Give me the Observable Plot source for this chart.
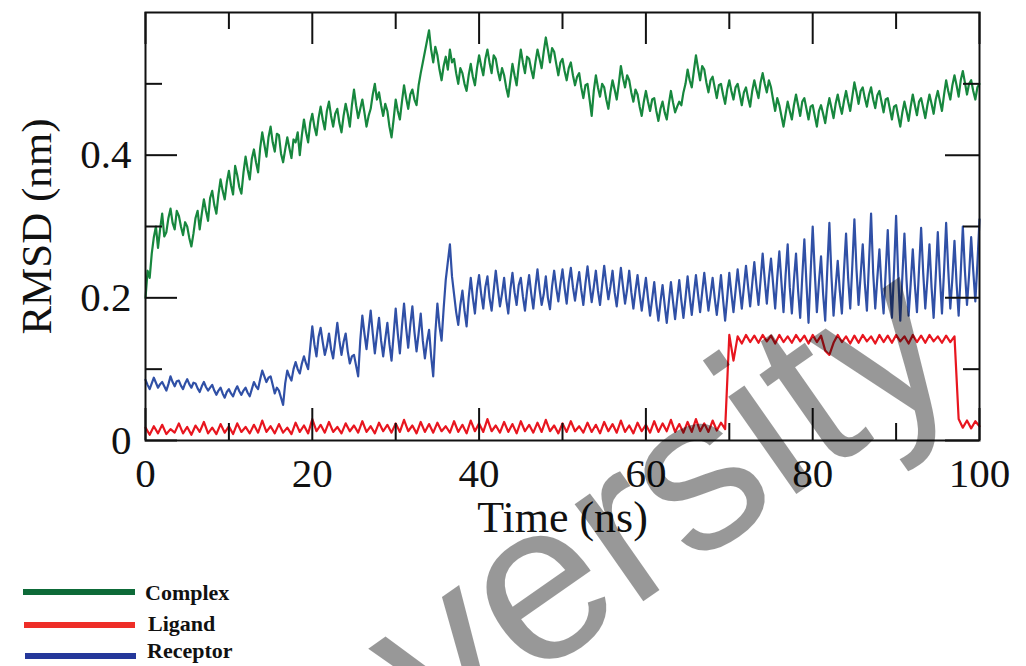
<!DOCTYPE html>
<html>
<head>
<meta charset="utf-8">
<script src="https://cdn.jsdelivr.net/npm/d3@7"></script>
<script src="https://cdn.jsdelivr.net/npm/@observablehq/plot@0.6"></script>
<style>
  html, body { margin: 0; padding: 0; background: #fff; }
  #wrap { position: relative; width: 1026px; height: 666px; overflow: hidden; }
  #legend { position: relative; width: 1026px; height: 96px; font-family: "Liberation Serif", "Times New Roman", serif; }
  .sw { position: absolute; height: 6px; }
  .lab { position: absolute; font-size: 22px; line-height: 22px; font-weight: bold; color: #111; white-space: nowrap; }
  #wm { position: absolute; font-family: "Liberation Sans", Arial, sans-serif; font-size: 225px; line-height: normal; color: #000; opacity: 0.4; white-space: nowrap; pointer-events: none; transform-origin: 0 0; }
</style>
</head>
<body>
<div id="wrap">
  <div id="chart"></div>
  <div id="legend"></div>
  <div id="wm">versity</div>
</div>
<script>
// ---- data (time in ns, RMSD in nm) ----
// fine time grid used by Complex and Receptor
const timeFineNs = [
  0,0.25,0.5,0.75,1,1.25,1.5,1.75,2,2.25,2.5,2.75,3,3.25,3.5,3.75,4,4.25,4.5,4.75,
  5,5.25,5.5,5.75,6,6.25,6.5,6.75,7,7.25,7.5,7.75,8,8.25,8.5,8.75,9,9.25,9.5,9.75,
  10,10.25,10.5,10.75,11,11.25,11.5,11.75,12,12.25,12.5,12.75,13,13.25,13.5,13.75,14,14.25,14.5,14.75,
  15,15.25,15.5,15.75,16,16.25,16.5,16.75,17,17.25,17.5,17.75,18,18.25,18.5,18.75,19,19.25,19.5,19.75,
  20,20.25,20.5,20.75,21,21.25,21.5,21.75,22,22.25,22.5,22.75,23,23.25,23.5,23.75,24,24.25,24.5,24.75,
  25,25.25,25.5,25.75,26,26.25,26.5,26.75,27,27.25,27.5,27.75,28,28.25,28.5,28.75,29,29.25,29.5,29.75,
  30,30.25,30.5,30.75,31,31.25,31.5,31.75,32,32.25,32.5,32.75,33,33.25,33.5,33.75,34,34.25,34.5,34.75,
  35,35.25,35.5,35.75,36,36.25,36.5,36.75,37,37.25,37.5,37.75,38,38.25,38.5,38.75,39,39.25,39.5,39.75,
  40,40.25,40.5,40.75,41,41.25,41.5,41.75,42,42.25,42.5,42.75,43,43.25,43.5,43.75,44,44.25,44.5,44.75,
  45,45.25,45.5,45.75,46,46.25,46.5,46.75,47,47.25,47.5,47.75,48,48.25,48.5,48.75,49,49.25,49.5,49.75,
  50,50.25,50.5,50.75,51,51.25,51.5,51.75,52,52.25,52.5,52.75,53,53.25,53.5,53.75,54,54.25,54.5,54.75,
  55,55.25,55.5,55.75,56,56.25,56.5,56.75,57,57.25,57.5,57.75,58,58.25,58.5,58.75,59,59.25,59.5,59.75,
  60,60.25,60.5,60.75,61,61.25,61.5,61.75,62,62.25,62.5,62.75,63,63.25,63.5,63.75,64,64.25,64.5,64.75,
  65,65.25,65.5,65.75,66,66.25,66.5,66.75,67,67.25,67.5,67.75,68,68.25,68.5,68.75,69,69.25,69.5,69.75,
  70,70.25,70.5,70.75,71,71.25,71.5,71.75,72,72.25,72.5,72.75,73,73.25,73.5,73.75,74,74.25,74.5,74.75,
  75,75.25,75.5,75.75,76,76.25,76.5,76.75,77,77.25,77.5,77.75,78,78.25,78.5,78.75,79,79.25,79.5,79.75,
  80,80.25,80.5,80.75,81,81.25,81.5,81.75,82,82.25,82.5,82.75,83,83.25,83.5,83.75,84,84.25,84.5,84.75,
  85,85.25,85.5,85.75,86,86.25,86.5,86.75,87,87.25,87.5,87.75,88,88.25,88.5,88.75,89,89.25,89.5,89.75,
  90,90.25,90.5,90.75,91,91.25,91.5,91.75,92,92.25,92.5,92.75,93,93.25,93.5,93.75,94,94.25,94.5,94.75,
  95,95.25,95.5,95.75,96,96.25,96.5,96.75,97,97.25,97.5,97.75,98,98.25,98.5,98.75,99,99.25,99.5,99.75,
  100
];

// coarse time grid used by Ligand
const timeCoarseNs = [
  0,0.5,1,1.5,2,2.5,3,3.5,4,4.5,5,5.5,6,6.5,7,7.5,8,8.5,9,9.5,
  10,10.5,11,11.5,12,12.5,13,13.5,14,14.5,15,15.5,16,16.5,17,17.5,18,18.5,19,19.5,
  20,20.5,21,21.5,22,22.5,23,23.5,24,24.5,25,25.5,26,26.5,27,27.5,28,28.5,29,29.5,
  30,30.5,31,31.5,32,32.5,33,33.5,34,34.5,35,35.5,36,36.5,37,37.5,38,38.5,39,39.5,
  40,40.5,41,41.5,42,42.5,43,43.5,44,44.5,45,45.5,46,46.5,47,47.5,48,48.5,49,49.5,
  50,50.5,51,51.5,52,52.5,53,53.5,54,54.5,55,55.5,56,56.5,57,57.5,58,58.5,59,59.5,
  60,60.5,61,61.5,62,62.5,63,63.5,64,64.5,65,65.5,66,66.5,67,67.5,68,68.5,69,69.5,
  70,70.5,71,71.5,72,72.5,73,73.5,74,74.5,75,75.5,76,76.5,77,77.5,78,78.5,79,79.5,
  80,80.5,81,81.5,82,82.5,83,83.5,84,84.5,85,85.5,86,86.5,87,87.5,88,88.5,89,89.5,
  90,90.5,91,91.5,92,92.5,93,93.5,94,94.5,95,95.5,96,96.5,97,97.5,98,98.5,99,99.5,
  100
];

const complexRmsd = [
  0.200,0.238,0.228,0.262,0.285,0.300,0.270,0.296,0.318,0.286,0.292,0.312,0.325,0.305,0.296,0.322,0.315,0.300,0.288,0.306,
  0.300,0.284,0.272,0.290,0.312,0.322,0.296,0.318,0.338,0.322,0.308,0.340,0.350,0.330,0.318,0.345,0.366,0.350,0.338,0.362,
  0.378,0.358,0.345,0.385,0.372,0.355,0.346,0.376,0.398,0.380,0.366,0.395,0.408,0.390,0.376,0.410,0.432,0.415,0.398,0.425,
  0.440,0.418,0.405,0.430,0.428,0.402,0.390,0.408,0.425,0.410,0.396,0.422,0.418,0.432,0.400,0.428,0.450,0.432,0.418,0.445,
  0.458,0.440,0.428,0.452,0.468,0.450,0.436,0.462,0.475,0.455,0.440,0.458,0.465,0.445,0.432,0.455,0.472,0.458,0.440,0.470,
  0.492,0.470,0.452,0.465,0.478,0.460,0.440,0.455,0.465,0.485,0.500,0.478,0.488,0.470,0.455,0.472,0.462,0.440,0.425,0.450,
  0.478,0.462,0.450,0.475,0.498,0.480,0.465,0.485,0.492,0.478,0.470,0.498,0.515,0.530,0.545,0.560,0.575,0.548,0.530,0.552,
  0.540,0.520,0.505,0.525,0.538,0.520,0.548,0.530,0.535,0.515,0.500,0.522,0.515,0.500,0.490,0.512,0.528,0.510,0.498,0.522,
  0.540,0.525,0.512,0.535,0.548,0.530,0.515,0.540,0.535,0.518,0.505,0.522,0.512,0.495,0.482,0.505,0.528,0.512,0.498,0.525,
  0.548,0.530,0.515,0.538,0.535,0.520,0.508,0.530,0.548,0.535,0.522,0.545,0.565,0.548,0.530,0.550,0.545,0.528,0.512,0.530,
  0.535,0.518,0.505,0.522,0.530,0.512,0.498,0.510,0.515,0.495,0.480,0.498,0.500,0.478,0.455,0.490,0.512,0.495,0.482,0.500,
  0.495,0.478,0.465,0.488,0.505,0.492,0.478,0.500,0.525,0.508,0.495,0.512,0.505,0.488,0.475,0.492,0.485,0.468,0.455,0.475,
  0.490,0.475,0.462,0.478,0.480,0.462,0.448,0.465,0.475,0.460,0.450,0.472,0.490,0.474,0.460,0.468,0.475,0.470,0.488,0.500,
  0.520,0.505,0.495,0.518,0.540,0.522,0.505,0.525,0.520,0.502,0.488,0.505,0.510,0.495,0.480,0.498,0.500,0.485,0.472,0.492,
  0.505,0.490,0.478,0.495,0.500,0.485,0.470,0.488,0.495,0.480,0.468,0.490,0.505,0.492,0.480,0.502,0.515,0.500,0.488,0.505,
  0.495,0.478,0.462,0.480,0.470,0.455,0.440,0.458,0.475,0.462,0.450,0.470,0.485,0.470,0.455,0.475,0.480,0.465,0.450,0.468,
  0.470,0.455,0.440,0.462,0.470,0.458,0.445,0.465,0.480,0.466,0.452,0.472,0.485,0.470,0.458,0.476,0.490,0.475,0.462,0.482,
  0.502,0.488,0.472,0.490,0.495,0.480,0.468,0.485,0.495,0.478,0.466,0.484,0.490,0.475,0.460,0.478,0.480,0.465,0.450,0.468,
  0.470,0.455,0.440,0.460,0.475,0.462,0.448,0.468,0.485,0.470,0.456,0.475,0.480,0.466,0.452,0.470,0.485,0.472,0.458,0.478,
  0.490,0.476,0.462,0.485,0.505,0.490,0.478,0.498,0.512,0.498,0.482,0.505,0.518,0.502,0.485,0.500,0.505,0.490,0.478,0.495,
  0.500
];

const receptorRmsd = [
  0.085,0.078,0.072,0.080,0.088,0.081,0.074,0.079,0.082,0.076,0.070,0.079,0.090,0.082,0.076,0.083,0.084,0.077,0.072,0.080,
  0.086,0.079,0.074,0.081,0.080,0.073,0.068,0.076,0.082,0.075,0.070,0.074,0.078,0.070,0.064,0.070,0.074,0.066,0.060,0.068,
  0.072,0.066,0.062,0.070,0.076,0.069,0.064,0.070,0.074,0.067,0.062,0.072,0.082,0.076,0.072,0.086,0.098,0.090,0.082,0.088,
  0.090,0.078,0.066,0.074,0.070,0.060,0.050,0.080,0.098,0.090,0.084,0.100,0.110,0.100,0.094,0.108,0.118,0.108,0.100,0.130,
  0.160,0.135,0.118,0.145,0.158,0.138,0.120,0.132,0.150,0.128,0.115,0.140,0.165,0.140,0.120,0.138,0.150,0.125,0.108,0.118,
  0.120,0.105,0.090,0.140,0.175,0.150,0.128,0.155,0.182,0.150,0.122,0.148,0.172,0.140,0.118,0.142,0.165,0.135,0.112,0.148,
  0.185,0.150,0.122,0.160,0.192,0.158,0.130,0.162,0.188,0.152,0.125,0.150,0.178,0.140,0.115,0.138,0.155,0.118,0.090,0.150,
  0.192,0.160,0.140,0.185,0.225,0.250,0.275,0.230,0.205,0.180,0.162,0.190,0.210,0.182,0.160,0.200,0.228,0.200,0.178,0.212,
  0.232,0.205,0.185,0.215,0.230,0.200,0.182,0.210,0.238,0.212,0.188,0.206,0.228,0.198,0.178,0.212,0.235,0.208,0.190,0.218,
  0.228,0.202,0.182,0.210,0.232,0.206,0.185,0.214,0.240,0.212,0.190,0.205,0.230,0.200,0.184,0.216,0.238,0.214,0.195,0.220,
  0.240,0.214,0.192,0.222,0.242,0.215,0.196,0.218,0.236,0.210,0.190,0.220,0.244,0.218,0.194,0.215,0.238,0.210,0.190,0.218,
  0.245,0.220,0.198,0.216,0.238,0.208,0.188,0.215,0.242,0.216,0.192,0.212,0.238,0.208,0.185,0.210,0.232,0.205,0.182,0.206,
  0.228,0.200,0.175,0.198,0.222,0.192,0.168,0.195,0.218,0.190,0.165,0.194,0.222,0.195,0.170,0.198,0.225,0.196,0.172,0.200,
  0.230,0.202,0.176,0.205,0.232,0.205,0.180,0.208,0.235,0.208,0.182,0.204,0.228,0.200,0.176,0.202,0.232,0.198,0.168,0.200,
  0.235,0.206,0.180,0.210,0.240,0.212,0.185,0.215,0.245,0.216,0.188,0.220,0.250,0.218,0.190,0.225,0.262,0.225,0.192,0.228,
  0.255,0.220,0.185,0.228,0.265,0.222,0.180,0.232,0.275,0.215,0.178,0.225,0.262,0.210,0.172,0.230,0.282,0.220,0.165,0.235,
  0.300,0.235,0.180,0.222,0.258,0.205,0.168,0.240,0.305,0.230,0.175,0.215,0.252,0.210,0.178,0.238,0.290,0.228,0.185,0.245,
  0.310,0.240,0.190,0.232,0.275,0.220,0.182,0.250,0.318,0.235,0.185,0.228,0.268,0.215,0.178,0.236,0.295,0.222,0.172,0.238,
  0.315,0.232,0.168,0.230,0.290,0.225,0.175,0.220,0.268,0.218,0.180,0.240,0.298,0.235,0.185,0.226,0.275,0.215,0.172,0.230,
  0.292,0.230,0.178,0.238,0.305,0.240,0.185,0.228,0.280,0.220,0.175,0.235,0.300,0.238,0.190,0.232,0.285,0.238,0.195,0.248,
  0.310
];

const ligandRmsd = [
  0.018,0.008,0.020,0.010,0.022,0.009,0.016,0.011,0.024,0.010,
  0.019,0.008,0.021,0.012,0.026,0.010,0.018,0.009,0.023,0.011,
  0.020,0.009,0.024,0.012,0.019,0.010,0.022,0.011,0.028,0.012,
  0.020,0.010,0.023,0.011,0.018,0.009,0.025,0.012,0.021,0.010,
  0.030,0.013,0.022,0.011,0.026,0.012,0.019,0.010,0.024,0.013,
  0.021,0.011,0.027,0.012,0.020,0.010,0.025,0.013,0.022,0.011,
  0.024,0.012,0.029,0.013,0.021,0.010,0.026,0.012,0.023,0.011,
  0.025,0.013,0.020,0.011,0.027,0.012,0.022,0.010,0.028,0.013,
  0.024,0.012,0.030,0.013,0.021,0.011,0.026,0.012,0.023,0.010,
  0.027,0.013,0.022,0.011,0.025,0.012,0.029,0.013,0.021,0.010,
  0.024,0.012,0.027,0.013,0.020,0.011,0.025,0.012,0.022,0.010,
  0.026,0.013,0.023,0.011,0.028,0.012,0.021,0.010,0.025,0.013,
  0.022,0.011,0.027,0.012,0.024,0.013,0.029,0.012,0.023,0.011,
  0.026,0.012,0.030,0.013,0.024,0.012,0.028,0.014,0.025,0.016,
  0.148,0.112,0.146,0.136,0.148,0.138,0.147,0.137,0.148,0.139,
  0.147,0.136,0.148,0.138,0.146,0.137,0.148,0.139,0.147,0.136,
  0.148,0.138,0.147,0.126,0.120,0.137,0.148,0.138,0.146,0.136,
  0.147,0.137,0.148,0.139,0.146,0.136,0.148,0.138,0.147,0.137,
  0.148,0.139,0.146,0.136,0.148,0.138,0.147,0.137,0.148,0.139,
  0.146,0.137,0.147,0.138,0.146,0.030,0.018,0.028,0.017,0.027,
  0.020
];

const seriesNames = ["Complex", "Ligand", "Receptor"];
const seriesColors = ["#17873e", "#e8161f", "#3050a6"];
const legendColors = ["#0d6a38", "#ee2e28", "#25389a"];

const xMajorTicks = [0, 20, 40, 60, 80, 100];
const xMinorTicks = [10, 30, 50, 70, 90];
const yMajorTicks = [0, 0.2, 0.4];
const yMinorTicks = [0.1, 0.3, 0.5];
const xTitle = "Time (ns)";
const yTitle = "RMSD (nm)";
const watermarkText = "versity";

// ---- build ----
const W = 1026, H = 570, mL = 145, mR = 47, mT = 12, mB = 130;
const xDom = [0, 100], yDom = [0, 0.6];
const plotW = W - mL - mR, plotH = H - mT - mB;
const dy = px => px * (yDom[1] - yDom[0]) / plotH;
const dx = px => px * (xDom[1] - xDom[0]) / plotW;

const rows = (times, vals, name) => times.map((t, i) => ({t, v: vals[i], name}));
const complexRows = rows(timeFineNs, complexRmsd, "Complex");
const receptorRows = rows(timeFineNs, receptorRmsd, "Receptor");
const ligandRows = rows(timeCoarseNs, ligandRmsd, "Ligand");

const tickStyle = {stroke: "#111", strokeWidth: 2};

const chart = Plot.plot({
  width: W, height: H,
  marginLeft: mL, marginRight: mR, marginTop: mT, marginBottom: mB,
  x: {domain: xDom},
  y: {domain: yDom},
  style: {fontFamily: "'Liberation Serif', 'Times New Roman', serif", background: "#fff", color: "#111"},
  marks: [
    Plot.lineY(ligandRows, {x: "t", y: "v", stroke: seriesColors[1], strokeWidth: 2.2}),
    Plot.lineY(receptorRows, {x: "t", y: "v", stroke: seriesColors[2], strokeWidth: 2.2}),
    Plot.lineY(complexRows, {x: "t", y: "v", stroke: seriesColors[0], strokeWidth: 2.2}),
    // inward ticks, four sides
    Plot.ruleX(xMajorTicks, {x: d => d, y1: yDom[0], y2: yDom[0] + dy(32), ...tickStyle}),
    Plot.ruleX(xMinorTicks, {x: d => d, y1: yDom[0], y2: yDom[0] + dy(17), ...tickStyle}),
    Plot.ruleX(xMajorTicks, {x: d => d, y1: yDom[1] - dy(32), y2: yDom[1], ...tickStyle}),
    Plot.ruleX(xMinorTicks, {x: d => d, y1: yDom[1] - dy(17), y2: yDom[1], ...tickStyle}),
    Plot.ruleY(yMajorTicks, {y: d => d, x1: xDom[0], x2: xDom[0] + dx(32), ...tickStyle}),
    Plot.ruleY(yMinorTicks, {y: d => d, x1: xDom[0], x2: xDom[0] + dx(17), ...tickStyle}),
    Plot.ruleY(yMajorTicks, {y: d => d, x1: xDom[1] - dx(34), x2: xDom[1], ...tickStyle}),
    Plot.ruleY(yMinorTicks, {y: d => d, x1: xDom[1] - dx(16), x2: xDom[1], ...tickStyle}),
    Plot.frame({stroke: "#111", strokeWidth: 2}),
    Plot.axisX({ticks: xMajorTicks, tickSize: 0, tickPadding: 17, fontSize: 41, label: null, tickFormat: d => String(d)}),
    Plot.axisY({ticks: yMajorTicks, tickSize: 0, tickPadding: 14, fontSize: 41, label: null, tickFormat: d => d === 0 ? "0" : d.toFixed(1)}),
    Plot.text([xTitle], {frameAnchor: "bottom", dy: 91, lineAnchor: "bottom", textAnchor: "middle", fontSize: 44, text: d => d}),
    Plot.text([yTitle], {frameAnchor: "left", dx: -95, rotate: -90, lineAnchor: "bottom", textAnchor: "middle", fontSize: 43, text: d => d})
  ]
});
document.getElementById("chart").appendChild(chart);

// ---- legend ----
const legend = document.getElementById("legend");
const swatchPos = [{left: 23, top: 19, width: 112}, {left: 24, top: 52, width: 111}, {left: 25, top: 83, width: 111}];
const labelPos = [{left: 145, top: 12}, {left: 148, top: 43}, {left: 147, top: 70}];
seriesNames.forEach((name, i) => {
  const sw = document.createElement("div");
  sw.className = "sw";
  sw.style.left = swatchPos[i].left + "px";
  sw.style.top = swatchPos[i].top + "px";
  sw.style.width = swatchPos[i].width + "px";
  sw.style.background = legendColors[i];
  legend.appendChild(sw);
  const lb = document.createElement("div");
  lb.className = "lab";
  lb.style.left = labelPos[i].left + "px";
  lb.style.top = labelPos[i].top + "px";
  lb.textContent = name;
  legend.appendChild(lb);
});

// watermark overlay (part of the source image)
const wm = document.getElementById("wm");
wm.textContent = watermarkText;
wm.style.left = "317px";
wm.style.top = "577px";
wm.style.transform = "rotate(-35deg)";
</script>
</body>
</html>
